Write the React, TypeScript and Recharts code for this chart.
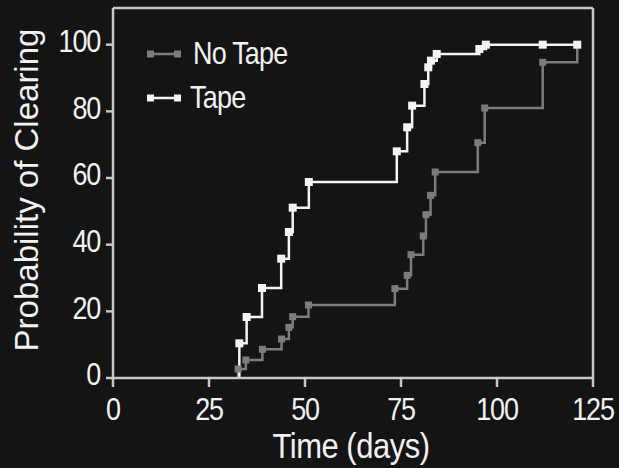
import { LineChart, Line, XAxis, YAxis, ReferenceLine, Label } from 'recharts'

const noTapeDays = [32.6, 32.6, 34.6, 38.9, 43.9, 45.8, 46.8, 50.9, 73.4, 76.6, 77.6, 80.8, 81.5, 82.7, 83.9, 95.0, 96.8, 111.9, 120.9]
const noTapeProb = [0, 2.7, 5.4, 8.6, 11.7, 15.2, 18.4, 21.9, 26.8, 30.8, 37.0, 42.6, 49.0, 54.8, 61.8, 70.6, 81.0, 94.7, 100]

const tapeDays = [32.9, 32.9, 34.8, 38.8, 43.8, 45.8, 46.8, 51.0, 73.9, 76.6, 77.9, 81.1, 82.1, 82.8, 84.3, 95.4, 97.1, 111.9, 120.9]
const tapeProb = [0, 10.4, 18.3, 27.0, 35.8, 43.8, 51.1, 58.8, 68.0, 75.2, 81.7, 88.2, 93.2, 95.2, 97.2, 98.7, 100, 100, 100]

const xTicks = [0, 25, 50, 75, 100, 125]
const yTicks = [0, 20, 40, 60, 80, 100]

const noTapeData = noTapeDays.map((x, i) => ({ x, y: noTapeProb[i] }))
const tapeData = tapeDays.map((x, i) => ({ x, y: tapeProb[i] }))

const BG = '#141414'
const AXIS = '#c8c8c8'
const TEXT = '#f2f2f2'
const GRAY = '#7c7c7c'
const WHITE = '#f4f4f4'
const FONT = '"Liberation Sans", Arial, Helvetica, sans-serif'
const STRETCH = 1.15 // the source text is a bit taller than it is wide

// squares on every step except the starting point at 0
const squareDot = (color: string, size: number) => (props: any) => {
  const { cx, cy, index } = props
  if (index === 0 || cx == null) return <g key={`d-${index}`} />
  return (
    <rect
      key={`d-${index}`}
      x={cx - size / 2}
      y={cy - size / 2}
      width={size}
      height={size}
      fill={color}
    />
  )
}

const XTick = ({ x, y, payload }: any) => (
  <text
    transform={`translate(${x} ${y}) scale(1 ${STRETCH})`}
    textAnchor="middle"
    dy="0.72em"
    fill={TEXT}
    fontSize={27}
    fontFamily={FONT}
    letterSpacing={-1.2}
  >
    {payload.value}
  </text>
)

const YTick = ({ x, y, payload }: any) => (
  <text
    transform={`translate(${x} ${y - 4}) scale(1 ${STRETCH})`}
    textAnchor="end"
    dy="0.36em"
    fill={TEXT}
    fontSize={27}
    fontFamily={FONT}
    letterSpacing={-1.2}
  >
    {payload.value}
  </text>
)

const LegendRow = ({ color, label, top, left }: { color: string; label: string; top: number; left: number }) => (
  <div style={{ position: 'absolute', top, left: 146, height: 30, display: 'flex', alignItems: 'center' }}>
    <svg width={36} height={12}>
      <line x1={4} y1={6} x2={32} y2={6} stroke={color} strokeWidth={2.5} />
      <rect x={1} y={2.5} width={7} height={7} fill={color} />
      <rect x={28} y={2.5} width={7} height={7} fill={color} />
    </svg>
    <span
      style={{
        position: 'absolute',
        left: left - 146,
        color: TEXT,
        fontFamily: FONT,
        fontSize: 27,
        letterSpacing: -0.8,
        whiteSpace: 'nowrap',
        transform: `scaleY(${STRETCH})`,
      }}
    >
      {label}
    </span>
  </div>
)

export default function App() {
  return (
    <div style={{ position: 'absolute', left: 0, top: 0, width: 619, height: 468, background: BG }}>
      <LineChart width={619} height={468} margin={{ top: 8, right: 26, left: 0, bottom: 0 }}>
        <XAxis
          type="number"
          dataKey="x"
          domain={[0, 125]}
          ticks={xTicks}
          allowDataOverflow
          height={90}
          stroke={AXIS}
          strokeWidth={2.5}
          tickSize={9}
          tickMargin={11}
          tick={<XTick />}
        >
          <Label
            content={() => (
              <text
                transform={`translate(351 458) scale(1 ${STRETCH})`}
                textAnchor="middle"
                fill={TEXT}
                fontSize={31}
                fontFamily={FONT}
                letterSpacing={-0.5}
              >
                Time (days)
              </text>
            )}
          />
        </XAxis>
        <YAxis
          type="number"
          dataKey="y"
          domain={[0, 111]}
          ticks={yTicks}
          allowDataOverflow
          width={113}
          stroke={AXIS}
          strokeWidth={2.5}
          tickSize={7}
          tickMargin={6}
          tick={<YTick />}
        >
          <Label
            content={() => (
              <text
                x={38}
                y={190}
                transform="rotate(-90 38 190)"
                textAnchor="middle"
                fill={TEXT}
                fontSize={33}
                fontFamily={FONT}
              >
                Probability of Clearing
              </text>
            )}
          />
        </YAxis>
        <ReferenceLine y={111} stroke={AXIS} strokeWidth={2.5} />
        <ReferenceLine x={125} stroke={AXIS} strokeWidth={2.5} />
        <Line
          data={noTapeData}
          dataKey="y"
          type="stepAfter"
          stroke={GRAY}
          strokeWidth={2.5}
          dot={squareDot(GRAY, 7)}
          activeDot={false}
          isAnimationActive={false}
        />
        <Line
          data={tapeData}
          dataKey="y"
          type="stepAfter"
          stroke={WHITE}
          strokeWidth={2.5}
          dot={squareDot(WHITE, 8)}
          activeDot={false}
          isAnimationActive={false}
        />
      </LineChart>
      <LegendRow color={GRAY} label="No Tape" top={39} left={193} />
      <LegendRow color={WHITE} label="Tape" top={83} left={190} />
    </div>
  )
}
